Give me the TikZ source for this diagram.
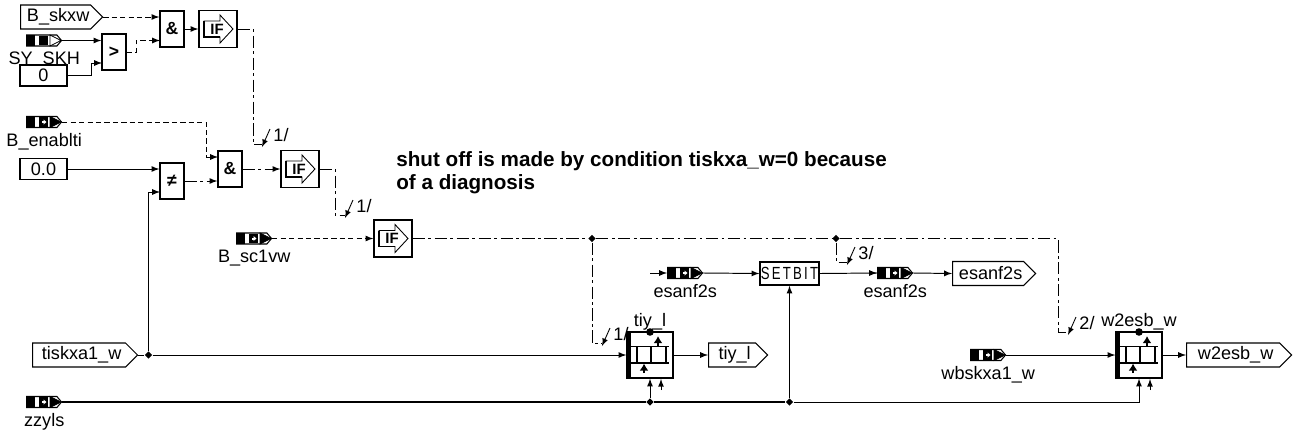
\documentclass[tikz,border=0pt]{standalone}
\usepackage{fontspec}
\setmainfont{Liberation Sans}
\usetikzlibrary{arrows.meta,calc,positioning,shapes.geometric,shapes.symbols}

\tikzset{
  lbl/.style={inner sep=0pt,text height=7.5pt,text depth=2pt},
  blk/.style={draw,fill=white,line width=0.75pt,inner sep=0pt},
  logicblk/.style={blk,minimum width=0.48cm,minimum height=0.72cm,font=\fontsize{10}{12}\selectfont\bfseries},
  ifblk/.style={blk,minimum width=0.76cm,minimum height=0.74cm},
  constblk/.style={blk,minimum width=0.94cm,minimum height=0.42cm},
  memblk/.style={blk,minimum width=0.92cm,minimum height=0.92cm},
  outport/.style={draw,line width=0.6pt,inner sep=0pt,shape=signal,signal to=east,signal pointer angle=90,minimum height=0.48cm,execute at begin node={\hspace{3pt}}},
  srcbody/.style={draw,fill=white,line width=0.6pt,inner sep=0pt,shape=signal,signal to=east,signal pointer angle=100,minimum height=0.22cm,minimum width=0.7cm},
  junc/.style={shape=diamond,fill=black,inner sep=0pt,minimum size=0.15cm},
  wire/.style={line width=0.55pt,-latex},
  plain/.style={line width=0.55pt},
  dsh/.style={dash pattern=on 3pt off 1.8pt},
  dshdot/.style={dash pattern=on 7pt off 2pt on 1.5pt off 2pt},
  uparr/.style={line width=0.8pt,-{Latex[length=4pt,width=5pt]}},
}

% quelle: name, x, y, label, colour of the tip, colour of the marks in the square
\newcommand{\srcblk}[6]{
  \begin{scope}[shift={(#2,#3)}]
    \node[srcbody,anchor=west] (#1) at (0,0) {};
    \fill (0,-5.5) rectangle (9,5.5);
    \filldraw[fill=#5,line width=0.5pt] (24,-5.5) -- (35,0) -- (24,5.5) -- cycle;
    \filldraw[fill=black,line width=0.6pt] (13.5,-4) rectangle (21.5,4);
    \fill[#6] (15.5,-1) rectangle (17.5,1);
    \fill[#6] (17.5,-2.5) -- (20.5,0) -- (17.5,2.5) -- cycle;
    \node[lbl,below=0.09cm of #1,xshift=0.05cm] (#1lbl) {#4};
  \end{scope}
}
% IF block
\newcommand{\ifsym}[3]{
  \node[ifblk] (#1) at (#2,#3) {};
  \begin{scope}[shift={(#2,#3)}]
    \draw[line width=0.5pt] (-14,-8) -- (2,-8) -- (2,-14) -- (15,0) -- (2,14) -- (2,8) -- (-14,8) -- cycle;
    \draw[line width=1pt] (-14,-8) -- (-14,8) -- (2,8);
    \node[font=\fontsize{8.5}{10}\selectfont\bfseries,inner sep=0pt] (#1txt) at (-1,0) {IF};
  \end{scope}
}
% memory block
\newcommand{\memsym}[4]{
  \node[memblk] (#1) at (#2,#3) {};
  \begin{scope}[shift={(#2,#3)}]
    \fill (-23,-23) rectangle (-19,23);
    \draw[line width=1.1pt] (-19,-8.5) -- (19,-8.5);
    \draw[line width=1.1pt] (-19,8) -- (19,8);
    \foreach \x in {-13,1,16}{
      \draw[line width=1.1pt] (\x,-8.5) -- (\x,8);
    }
    \draw[uparr] (8,-8.5) -- (8,-19);
    \draw[uparr] (-6,18) -- (-6,8.5);
    \draw[-latex,line width=0.5pt] (11,35) -- (11,24);
    \fill (0,-23) circle (3.8);
    \node[lbl] (#1lbl) at (0,-33) {#4};
  \end{scope}
}

\begin{document}
\begin{tikzpicture}[x=0.02cm,y=-0.02cm,every node/.append style={font=\fontsize{10.3}{12}\selectfont}]
\useasboundingbox (0,0) rectangle (1296,433);

%--- eingaenge ---
\node[outport,anchor=west,minimum width=1.64cm] (skxw) at (20,17) {B\_skxw};
\srcblk{syskh}{26}{40.5}{SY\_SKH}{white}{black}
\node[constblk] (czero) at (43.5,75.5) {0};
\srcblk{enablti}{26}{122}{B\_enablti}{black}{white}
\node[constblk] (cnull) at (43.5,169) {0.0};
\srcblk{scvw}{236}{238.5}{B\_sc1vw}{black}{white}
\node[outport,anchor=west,minimum width=2.1cm] (tiskxa) at (32,355) {tiskxa1\_w};
\srcblk{zzyls}{26}{402}{zzyls}{black}{white}

%--- logik ---
\node[logicblk] (gt) at (114,52) {>};
\node[logicblk] (andA) at (172,29) {\&};
\node[logicblk] (neq) at (172,181) {≠};
\node[logicblk] (andB) at (230,169) {\&};
\ifsym{ifA}{218}{29}
\ifsym{ifB}{300}{169}
\ifsym{ifC}{393}{238.5}

\node[font=\fontsize{11.75}{13}\selectfont\bfseries,anchor=north west,align=left,inner sep=0pt] (note) at (396,151) {shut off is made by condition tiskxa\_w=0 because\\of a diagnosis};

%--- mitte und rechts ---
\srcblk{esanfA}{667}{273}{esanf2s}{black}{white}
\node[blk,minimum width=1.18cm,minimum height=0.46cm] (setbit) at (789.5,273.5) {\scalebox{0.75}[1]{\fontsize{10}{12}\selectfont S\,E\,T\,B\,I\,T}};
\srcblk{esanfB}{877}{273}{esanf2s}{black}{white}
\node[outport,anchor=west,minimum width=1.66cm] (esanfout) at (952,273.5) {esanf2s};
\memsym{tiy}{650}{355}{tiy\_l}
\node[outport,anchor=west,minimum width=1.18cm] (tiyout) at (708,355) {tiy\_l};
\srcblk{wbskxa}{970}{355}{wbskxa1\_w}{black}{white}
\memsym{wesb}{1139}{355}{w2esb\_w}
\node[outport,anchor=west,minimum width=2.1cm] (wesbout) at (1186,355) {w2esb\_w};

%--- knoten ---
\node[junc] (jA) at (592,238.5) {};
\node[junc] (jB) at (836,238.5) {};
\node[junc] (jtis) at (148.5,355) {};
\node[junc] (jt) at (tiy.south |- zzyls.east) {};
\node[junc] (js) at (setbit.south |- zzyls.east) {};

%--- hilfspunkte ---
\coordinate (andAb) at (160,40.5);
\coordinate (gtb) at (102,63);
\coordinate (gtbend) at (136,52);
\coordinate (zerobend) at (91,75.5);
\coordinate (enbend) at (206,122);
\coordinate (andBa) at (160,192);
\coordinate (andBin) at (218,157);
\coordinate (ifAbend) at (253,29);
\coordinate (ifBbend) at (335,169);
\coordinate (longbend) at (1058,238.5);
\coordinate (tapa) at (262,144);
\coordinate (tapb) at (345,215);
\coordinate (tapc) at (602,343);
\coordinate (tapd) at (847,262);
\coordinate (tape) at (1068,332);

%--- verbindungen ---
\draw[wire,dsh] (skxw.east) -- (skxw.east -| andA.west);
\draw[wire] (syskh.east) -- (syskh.east -| gt.west);
\draw[wire] (czero.east) -- (zerobend) |- (gtb);
\draw[wire,dsh] (gt.east) -- (gtbend) |- (andAb);
\draw[wire] (andA.east |- ifA.west) -- (ifA.west);
\draw[wire,dsh] (enablti.east) -- (enbend) |- (andBin);
\draw[wire] (cnull.east) -- (cnull.east -| neq.west);
\draw[wire,dshdot] (neq.east) -- (neq.east -| andB.west);
\draw[wire,dshdot] (andB.east) -- (ifB.west);
\draw[wire,dsh] (scvw.east) -- (ifC.west);
\draw[plain,dshdot] (ifA.east) -- (ifAbend) |- (tapa);
\draw[plain,dshdot] (ifB.east) -- (ifBbend) |- (tapb);
\draw[plain,dshdot] (ifC.east) -- (jA) -- (jB) -- (longbend) |- (tape);
\draw[plain,dshdot] (jA) |- (tapc);
\draw[plain,dshdot] (jB) |- (tapd);
% abzweig mit bus-kennung
\foreach \nm/\txt in {tapa/1,tapb/1,tapc/1,tapd/3,tape/2}{
  \draw[-latex,line width=0.5pt] ($(\nm)+(8,-15)$) -- ($(\nm)+(0,3)$);
  \node[lbl] (\nm lbl) at ($(\nm)+(19,-7)$) {\txt/};
}
\draw[plain] (tiskxa.east) -- (jtis);
\draw[wire] (jtis) -- (tiy.west);
\draw[wire] (jtis) |- (andBa);
\draw[wire] (tiy.east) -- (tiyout.west);
\draw[line width=0.9pt] (zzyls.east) -- (jt) -- (js);
\draw[wire] (js) -| (wesb.south);
\draw[wire] (jt) -- (tiy.south);
\draw[wire] (js) -- (setbit.south);
\draw[wire] (esanfA.east) -- (setbit.west);
\draw[plain] (setbit.east) -- (esanfB.west);
\draw[wire] ($(esanfA.west)+(-17,0)$) -- (esanfA.west);
\draw[wire] ($(esanfB.west)+(-4,0)$) -- (esanfB.west);
\draw[wire] (esanfB.east) -- (esanfout.west);
\draw[wire] (wbskxa.east) -- (wesb.west);
\draw[wire] (wesb.east) -- (wesbout.west);
\end{tikzpicture}
\end{document}
